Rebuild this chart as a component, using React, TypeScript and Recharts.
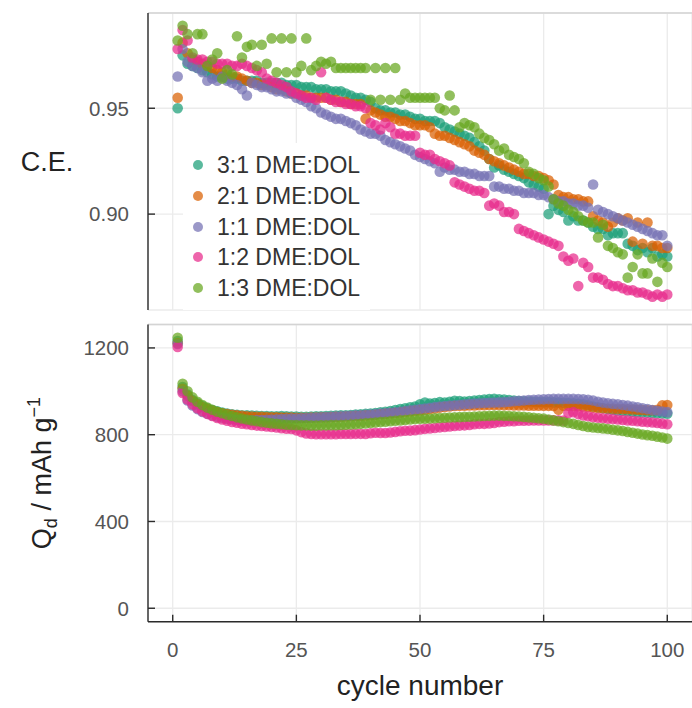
import { ScatterChart, Scatter, XAxis, YAxis, CartesianGrid, Legend, ReferenceLine } from "recharts";

// cycle index 1..100
const cycles = Array.from({ length: 100 }, (_, i) => i + 1);

const seriesNames = ["3:1 DME:DOL", "2:1 DME:DOL", "1:1 DME:DOL", "1:2 DME:DOL", "1:3 DME:DOL"];
const seriesColors = ["#1b9e77", "#d95f02", "#7570b3", "#e7298a", "#66a61e"];

// coulombic efficiency
const ce31 = [
  0.950, 0.975, 0.971, 0.970, 0.969, 0.968, 0.967, 0.966, 0.965, 0.965,
  0.964, 0.964, 0.964, 0.963, 0.963, 0.963, 0.963, 0.962, 0.962, 0.962,
  0.962, 0.962, 0.961, 0.961, 0.961, 0.960, 0.960, 0.960, 0.959, 0.959,
  0.959, 0.958, 0.958, 0.958, 0.957, 0.956, 0.955, 0.955, 0.954, 0.953,
  0.950, 0.949, 0.949, 0.948, 0.948, 0.947, 0.947, 0.946, 0.945, 0.945,
  0.944, 0.944, 0.944, 0.943, 0.941, 0.940, 0.939, 0.938, 0.937, 0.936,
  0.934, 0.932, 0.930, 0.926, 0.922, 0.923, 0.921, 0.920, 0.919, 0.918,
  0.917, 0.915, 0.914, 0.913, 0.912, 0.900, 0.904, 0.902, 0.901, 0.897,
  0.899, 0.897, 0.897, 0.896, 0.894, 0.893, 0.893, 0.890, 0.891, 0.891,
  0.891, 0.886, 0.885, 0.883, 0.884, 0.882, 0.884, 0.880, 0.881, 0.880,
];
const ce21 = [
  0.955, 0.981, 0.976, 0.973, 0.972, 0.971, 0.970, 0.969, 0.968, 0.967,
  0.966, 0.965, 0.965, 0.964, 0.963, 0.962, 0.962, 0.961, 0.961, 0.960,
  0.959, 0.959, 0.958, 0.957, 0.957, 0.956, 0.956, 0.955, 0.955, 0.955,
  0.955, 0.954, 0.954, 0.953, 0.953, 0.952, 0.952, 0.952, 0.945, 0.949,
  0.948, 0.947, 0.946, 0.946, 0.945, 0.944, 0.944, 0.943, 0.942, 0.942,
  0.942, 0.941, 0.938, 0.937, 0.937, 0.936, 0.935, 0.934, 0.933, 0.932,
  0.930, 0.929, 0.928, 0.926, 0.925, 0.924, 0.923, 0.922, 0.921, 0.920,
  0.919, 0.919, 0.918, 0.918, 0.917, 0.916, 0.914, 0.909, 0.908, 0.908,
  0.907, 0.907, 0.906, 0.906, 0.899, 0.897, 0.896, 0.894, 0.896, 0.898,
  0.897, 0.898, 0.887, 0.896, 0.886, 0.896, 0.885, 0.885, 0.884, 0.884,
];
const ce11 = [
  0.965, 0.978, 0.972, 0.970, 0.969, 0.967, 0.963, 0.964, 0.963, 0.965,
  0.963, 0.962, 0.961, 0.959, 0.956, 0.962, 0.961, 0.960, 0.960, 0.959,
  0.958, 0.958, 0.957, 0.957, 0.955, 0.954, 0.953, 0.951, 0.950, 0.948,
  0.947, 0.946, 0.945, 0.945, 0.944, 0.943, 0.942, 0.940, 0.939, 0.938,
  0.938, 0.937, 0.935, 0.934, 0.933, 0.932, 0.931, 0.930, 0.928, 0.927,
  0.926, 0.925, 0.924, 0.920, 0.922, 0.921, 0.921, 0.920, 0.920, 0.919,
  0.919, 0.918, 0.918, 0.918, 0.913, 0.913, 0.912, 0.912, 0.911, 0.911,
  0.910, 0.910, 0.910, 0.909, 0.909, 0.908, 0.907, 0.906, 0.906, 0.905,
  0.905, 0.904, 0.904, 0.903, 0.914, 0.902, 0.901, 0.900, 0.899, 0.898,
  0.897, 0.896, 0.895, 0.894, 0.893, 0.892, 0.891, 0.890, 0.890, 0.885,
];
const ce12 = [
  0.978, 0.987, 0.982, 0.974, 0.973, 0.973, 0.972, 0.972, 0.971, 0.971,
  0.971, 0.970, 0.970, 0.971, 0.970, 0.969, 0.968, 0.967, 0.964, 0.963,
  0.962, 0.961, 0.960, 0.958, 0.957, 0.956, 0.955, 0.955, 0.954, 0.967,
  0.955, 0.954, 0.953, 0.953, 0.952, 0.952, 0.951, 0.951, 0.950, 0.943,
  0.942, 0.940, 0.943, 0.941, 0.938, 0.938, 0.937, 0.937, 0.937, 0.929,
  0.928, 0.928, 0.926, 0.925, 0.924, 0.923, 0.915, 0.914, 0.913, 0.912,
  0.911, 0.911, 0.910, 0.904, 0.905, 0.904, 0.901, 0.901, 0.900, 0.893,
  0.892, 0.891, 0.890, 0.889, 0.888, 0.887, 0.886, 0.885, 0.880, 0.878,
  0.879, 0.866, 0.877, 0.875, 0.870, 0.870, 0.869, 0.867, 0.866, 0.866,
  0.865, 0.864, 0.864, 0.863, 0.863, 0.862, 0.861, 0.862, 0.861, 0.862,
];
const ce13 = [
  0.982, 0.989, 0.985, 0.976, 0.985, 0.985, 0.970, 0.973, 0.976, 0.964,
  0.968, 0.966, 0.984, 0.974, 0.979, 0.980, 0.970, 0.980, 0.971, 0.983,
  0.967, 0.983, 0.967, 0.983, 0.967, 0.970, 0.983, 0.968, 0.970, 0.972,
  0.971, 0.972, 0.969, 0.969, 0.969, 0.969, 0.969, 0.969, 0.969, 0.954,
  0.969, 0.954, 0.969, 0.954, 0.969, 0.954, 0.957, 0.955, 0.955, 0.955,
  0.955, 0.955, 0.955, 0.950, 0.949, 0.956, 0.949, 0.941, 0.943, 0.942,
  0.941, 0.938, 0.936, 0.935, 0.933, 0.930, 0.931, 0.928, 0.927, 0.926,
  0.924, 0.920, 0.919, 0.917, 0.916, 0.913, 0.907, 0.905, 0.904, 0.902,
  0.901, 0.899, 0.897, 0.896, 0.896, 0.889, 0.895, 0.885, 0.884, 0.882,
  0.881, 0.870, 0.875, 0.881, 0.872, 0.872, 0.879, 0.868, 0.877, 0.875,
];

// discharge capacity in mAh/g
const qd31 = [
  1232, 1020, 985, 960, 945, 932, 922, 914, 908, 902,
  898, 894, 892, 890, 889, 888, 887, 886, 886, 885,
  885, 886, 885, 884, 884, 883, 883, 884, 885, 885,
  886, 887, 888, 889, 890, 891, 893, 894, 896, 898,
  900, 903, 906, 909, 914, 918, 922, 926, 930, 940,
  948, 944, 946, 950, 948, 952, 956, 955, 953, 955,
  957, 960, 962, 964, 966, 963, 962, 960, 958, 955,
  954, 953, 952, 951, 950, 950, 949, 948, 947, 946,
  945, 943, 940, 936, 930, 926, 922, 918, 915, 912,
  910, 908, 906, 904, 903, 902, 900, 899, 898, 897,
];
const qd21 = [
  1222, 1012, 980, 955, 940, 928, 918, 910, 904, 899,
  895, 892, 889, 887, 885, 884, 883, 882, 881, 880,
  880, 879, 879, 879, 878, 878, 878, 879, 879, 880,
  880, 881, 882, 883, 884, 885, 886, 887, 889, 890,
  892, 894, 896, 898, 900, 902, 905, 907, 910, 912,
  915, 918, 921, 925, 928, 930, 932, 933, 934, 935,
  935, 936, 936, 937, 937, 937, 936, 936, 935, 935,
  935, 934, 934, 934, 933, 933, 932, 915, 933, 933,
  932, 931, 930, 928, 925, 923, 922, 921, 920, 919,
  918, 917, 916, 915, 914, 913, 913, 915, 935, 937,
];
const qd11 = [
  1218, 1000, 958, 935, 918, 905, 896, 889, 883, 878,
  874, 871, 868, 866, 865, 866, 867, 868, 869, 870,
  871, 872, 873, 874, 875, 876, 877, 878, 879, 880,
  881, 882, 884, 885, 886, 887, 889, 890, 892, 893,
  895, 897, 899, 901, 903, 906, 909, 912, 915, 918,
  921, 924, 927, 930, 932, 934, 936, 938, 940, 942,
  944, 945, 946, 947, 948, 949, 950, 952, 954, 956,
  958, 960, 961, 962, 963, 964, 965, 965, 965, 965,
  965, 964, 963, 961, 958, 952, 948, 945, 942, 940,
  937, 934, 930, 926, 922, 918, 914, 910, 907, 904,
];
const qd12 = [
  1204, 992, 962, 940, 922, 908, 896, 886, 877, 870,
  864, 859, 855, 851, 848, 845, 842, 840, 838, 836,
  833, 830, 828, 826, 820, 812, 806, 803, 802, 802,
  802, 802, 802, 803, 803, 803, 804, 804, 803, 807,
  809, 808, 808, 810, 813, 816, 818, 819, 821, 824,
  827, 829, 831, 834, 836, 838, 840, 842, 843, 845,
  848, 850, 850, 852, 854, 858, 860, 862, 862, 864,
  864, 865, 866, 866, 866, 866, 866, 866, 865, 900,
  904, 895, 889, 885, 880, 878, 876, 874, 872, 870,
  868, 866, 864, 862, 860, 858, 856, 854, 851, 848,
];
const qd13 = [
  1247, 1035, 1000, 972, 952, 937, 925, 915, 906, 899,
  892, 886, 880, 875, 870, 866, 862, 858, 855, 852,
  850, 848, 846, 845, 844, 843, 843, 842, 842, 843,
  843, 844, 844, 845, 846, 847, 848, 850, 852, 854,
  856, 858, 860, 862, 864, 866, 868, 870, 872, 873,
  874, 875, 876, 877, 878, 879, 880, 881, 882, 883,
  884, 885, 886, 887, 888, 888, 887, 886, 885, 884,
  882, 880, 878, 876, 874, 870, 866, 862, 858, 854,
  850, 845, 840, 836, 833, 831, 829, 826, 823, 820,
  817, 813, 809, 805, 801, 798, 795, 791, 787, 782,
];

const ceSeries = [ce31, ce21, ce11, ce12, ce13];
const qdSeries = [qd31, qd21, qd11, qd12, qd13];

const xTicks = [0, 25, 50, 75, 100];
const ceTicks = [0.9, 0.95];
const qdTicks = [0, 400, 800, 1200];

const xDomain = [-5, 105];
const ceDomain = [0.8547, 0.995];
const qdDomain = [-62, 1308];

const FONT = "'Liberation Sans', Arial, Helvetica, sans-serif";
const AXIS = "#2b2b2b";
const GRID = "#ebebeb";
const TICK_TEXT = "#555";

const toPoints = (vals: number[]) => cycles.map((c, i) => ({ cycle: c, v: vals[i] }));

const Dot = (color: string) => (p: any) =>
  <circle cx={p.cx} cy={p.cy} r={5.3} fill={color} fillOpacity={0.72} />;

const YTick = (fmt: (v: number) => string) => (p: any) => (
  <g>
    <line x1={p.x} y1={p.y} x2={p.x + 7} y2={p.y} stroke={AXIS} strokeWidth={1.4} />
    <text x={p.x - 19} y={p.y} dy="0.36em" textAnchor="end" fill={TICK_TEXT} fontSize={20.5}>
      {fmt(p.payload.value)}
    </text>
  </g>
);

const XTick = (p: any) => (
  <g>
    <line x1={p.x} y1={p.y} x2={p.x} y2={p.y - 7} stroke={AXIS} strokeWidth={1.4} />
    <text x={p.x} y={p.y + 35} textAnchor="middle" fill={TICK_TEXT} fontSize={20.5}>
      {p.payload.value}
    </text>
  </g>
);

const renderLegend = () => (
  <div style={{ background: "#fff", padding: "7px 0 7px 10px", width: 187, boxSizing: "border-box", fontFamily: FONT }}>
    {seriesNames.map((n, i) => (
      <div key={n} style={{ display: "flex", alignItems: "center", height: 30.7 }}>
        <span
          style={{
            display: "inline-block", width: 10, height: 10, borderRadius: 5,
            background: seriesColors[i], opacity: 0.72, marginRight: 14,
          }}
        />
        <span style={{ fontSize: 23, color: "#333", lineHeight: "30px" }}>{n}</span>
      </div>
    ))}
  </div>
);

export default function App() {
  return (
    <div style={{ position: "absolute", left: 0, top: 0, width: 692, height: 708, background: "#fff", fontFamily: FONT }}>
      <div style={{ position: "absolute", left: 0, top: 0 }}>
        <ScatterChart width={692} height={320} margin={{ top: 13, right: 0, bottom: 10, left: 0 }}>
          <CartesianGrid stroke={GRID} strokeWidth={1.3} />
          <XAxis type="number" dataKey="cycle" domain={xDomain} ticks={xTicks} hide allowDataOverflow />
          <YAxis
            type="number"
            dataKey="v"
            width={148}
            domain={ceDomain}
            ticks={ceTicks}
            allowDataOverflow
            interval={0}
            tickSize={0}
            tickMargin={0}
            tickLine={false}
            axisLine={{ stroke: AXIS, strokeWidth: 1.4 }}
            tick={YTick((v) => v.toFixed(2))}
            label={(p: any) => (
              <text x={47} y={p.viewBox.y + p.viewBox.height / 2} dy="0.36em" textAnchor="middle" fill="#222" fontSize={27}>
                C.E.
              </text>
            )}
          />
          <ReferenceLine y={ceDomain[1]} stroke="#d4d4d4" strokeWidth={1.3} />
          {ceSeries.map((vals, i) => (
            <Scatter
              key={seriesNames[i]}
              name={seriesNames[i]}
              data={toPoints(vals)}
              fill={seriesColors[i]}
              shape={Dot(seriesColors[i])}
              isAnimationActive={false}
            />
          ))}
          <Legend
            layout="vertical"
            align="center"
            verticalAlign="middle"
            wrapperStyle={{ left: 183, top: 143, width: 187 }}
            content={renderLegend}
          />
        </ScatterChart>
      </div>
      <div style={{ position: "absolute", left: 0, top: 310 }}>
        <ScatterChart width={692} height={398} margin={{ top: 14.5, right: 0, bottom: 0, left: 0 }}>
          <CartesianGrid stroke={GRID} strokeWidth={1.3} />
          <XAxis
            type="number"
            dataKey="cycle"
            domain={xDomain}
            ticks={xTicks}
            allowDataOverflow
            interval={0}
            height={86.3}
            tickSize={0}
            tickMargin={0}
            tickLine={false}
            axisLine={{ stroke: AXIS, strokeWidth: 1.4 }}
            tick={XTick}
            label={(p: any) => (
              <text x={p.viewBox.x + p.viewBox.width / 2} y={p.viewBox.y + 73} textAnchor="middle" fill="#222" fontSize={28}>
                cycle number
              </text>
            )}
          />
          <YAxis
            type="number"
            dataKey="v"
            width={148}
            domain={qdDomain}
            ticks={qdTicks}
            allowDataOverflow
            interval={0}
            tickSize={0}
            tickMargin={0}
            tickLine={false}
            axisLine={{ stroke: AXIS, strokeWidth: 1.4 }}
            tick={YTick((v) => String(v))}
            label={(p: any) => {
              const cx = 41;
              const cy = p.viewBox.y + p.viewBox.height / 2;
              return (
                <text x={cx} y={cy} transform={`rotate(-90 ${cx} ${cy})`} textAnchor="middle" dy="0.36em" fill="#222" fontSize={27}>
                  <tspan>Q</tspan>
                  <tspan dy={6} fontSize={18}>d</tspan>
                  <tspan dy={-6}> / mAh g</tspan>
                  <tspan dy={-11} fontSize={18}>−1</tspan>
                </text>
              );
            }}
          />
          <ReferenceLine y={qdDomain[1]} stroke="#d4d4d4" strokeWidth={1.3} />
          {qdSeries.map((vals, i) => (
            <Scatter
              key={seriesNames[i]}
              name={seriesNames[i]}
              data={toPoints(vals)}
              fill={seriesColors[i]}
              shape={Dot(seriesColors[i])}
              isAnimationActive={false}
            />
          ))}
        </ScatterChart>
      </div>
    </div>
  );
}
